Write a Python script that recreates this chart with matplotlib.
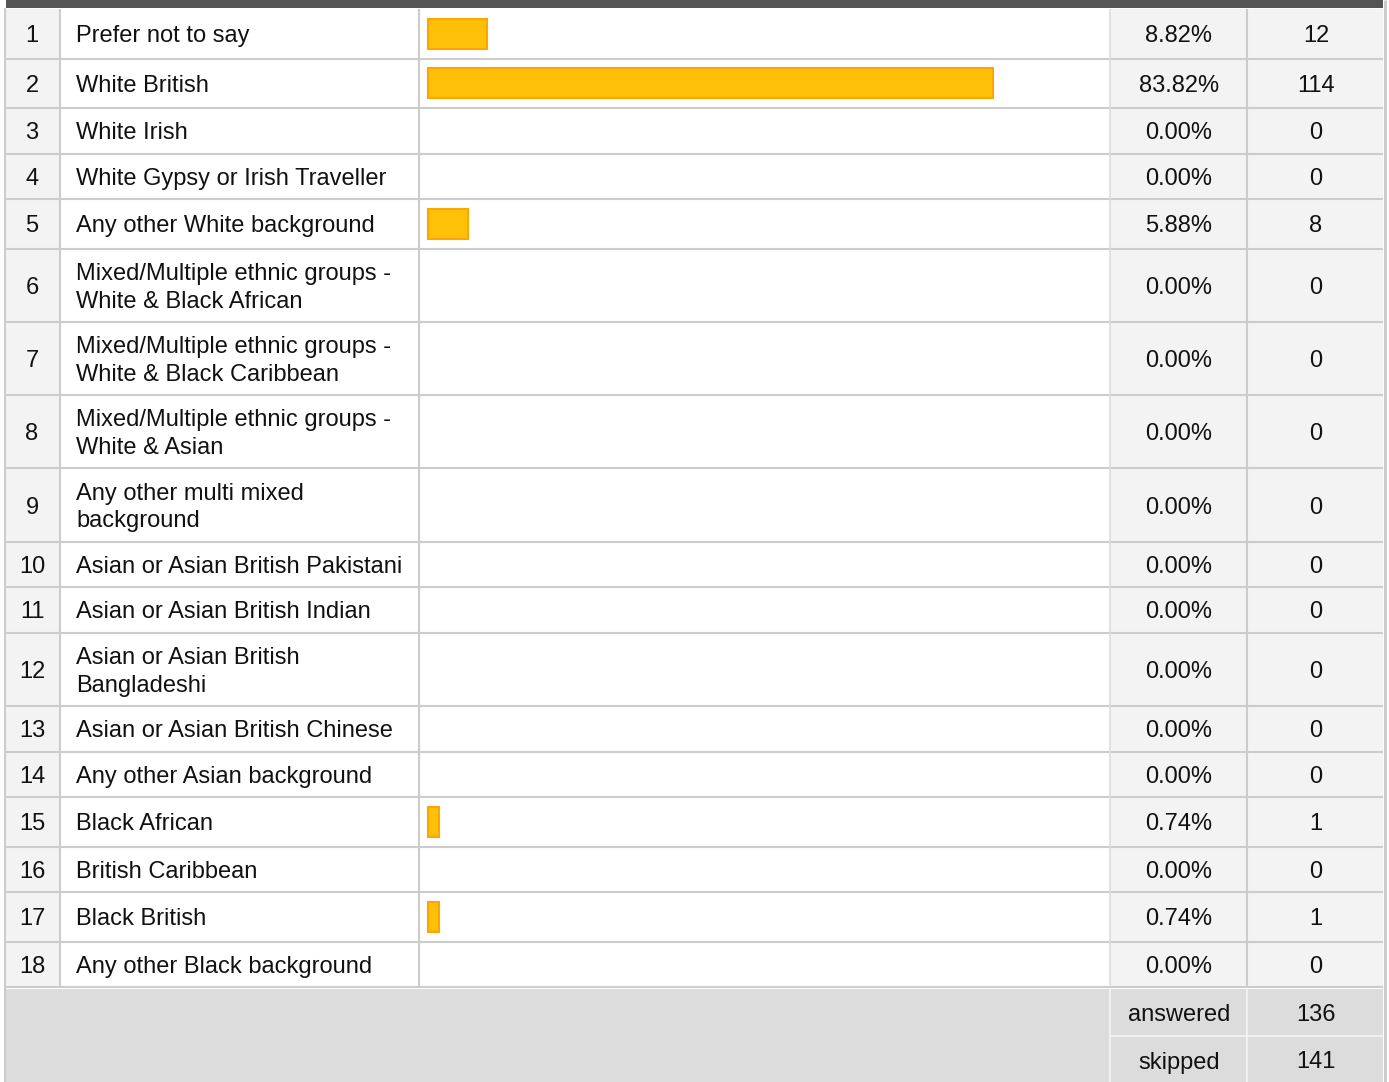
import matplotlib.pyplot as plt

# Survey answer choices (ethnicity)
labels = [
    "Prefer not to say",
    "White British",
    "White Irish",
    "White Gypsy or Irish Traveller",
    "Any other White background",
    "Mixed/Multiple ethnic groups -\nWhite & Black African",
    "Mixed/Multiple ethnic groups -\nWhite & Black Caribbean",
    "Mixed/Multiple ethnic groups -\nWhite & Asian",
    "Any other multi mixed\nbackground",
    "Asian or Asian British Pakistani",
    "Asian or Asian British Indian",
    "Asian or Asian British\nBangladeshi",
    "Asian or Asian British Chinese",
    "Any other Asian background",
    "Black African",
    "British Caribbean",
    "Black British",
    "Any other Black background",
]
percents = [8.82, 83.82, 0.00, 0.00, 5.88, 0.00, 0.00, 0.00, 0.00,
            0.00, 0.00, 0.00, 0.00, 0.00, 0.74, 0.00, 0.74, 0.00]
counts = [12, 114, 0, 0, 8, 0, 0, 0, 0, 0, 0, 0, 0, 0, 1, 0, 1, 0]
answered = 136
skipped = 141

plt.rcParams["font.family"] = ["Liberation Sans", "DejaVu Sans"]

W, H = 1389, 1082
fig = plt.figure(figsize=(W / 100, H / 100), dpi=100)
ax = fig.add_axes([0, 0, 1, 1])
ax.set_xlim(0, W)
ax.set_ylim(H, 0)
ax.axis("off")

# column edges (pixels)
x_left, x_num, x_lab, x_bar, x_pct, x_right = 6, 60, 419, 1110, 1247, 1383
bar_start = 428
px_per_pct = 6.74
grid = "#cccccc"
cell_grey = "#f3f3f3"
fs = 17
tc = "#111111"
dy = 2.5  # nudge text down so glyphs sit centred like the original

# dark header strip
ax.fill_between([x_left, x_right], 0, 8, color="#555555", lw=0)

# row heights depend on number of lines and whether there is a bar
top = 9
edges = [top]
for lab, p in zip(labels, percents):
    if "\n" in lab:
        h = 73.3
    elif p > 0:
        h = 49.5
    else:
        h = 45.5
    edges.append(edges[-1] + h)
body_bottom = edges[-1]

# grey cells
ax.fill_between([x_left, x_num], top, body_bottom, color=cell_grey, lw=0)
ax.fill_between([x_bar, x_right], top, body_bottom, color=cell_grey, lw=0)

for i, (lab, p, c) in enumerate(zip(labels, percents, counts)):
    y0, y1 = edges[i], edges[i + 1]
    yc = (y0 + y1) / 2
    ax.text(32, yc + dy, str(i + 1), ha="center", va="center", fontsize=fs, color=tc)
    ax.text(76, yc + dy, lab, ha="left", va="center", fontsize=fs, color=tc,
            linespacing=1.34)
    if p > 0:
        w = max(p * px_per_pct, 11)
        ax.barh(yc, w, left=bar_start, height=30, color="#ffc107",
                edgecolor="#ffa500", linewidth=1.5)
    ax.text(1179, yc + dy, f"{p:.2f}%", ha="center", va="center", fontsize=fs, color=tc)
    ax.text(1316, yc + dy, str(c), ha="center", va="center", fontsize=fs, color=tc)

# grid lines
ax.hlines(edges[1:], x_left, x_right, color=grid, lw=1.5)
ax.vlines([x_num, x_lab, x_pct], top, body_bottom, color=grid, lw=1.5)
ax.vlines(x_bar, top, body_bottom, color="#dddddd", lw=1.2)

# footer
foot_top = body_bottom + 2
ax.fill_between([x_left, x_right], foot_top, H, color="#dcdcdc", lw=0)
mid = foot_top + 47
y_ans = (foot_top + mid) / 2 + dy
y_skip = (mid + H + 2) / 2 + dy
ax.text(1179, y_ans, "answered", ha="center", va="center", fontsize=fs, color=tc)
ax.text(1316, y_ans, str(answered), ha="center", va="center", fontsize=fs, color=tc)
ax.text(1179, y_skip, "skipped", ha="center", va="center", fontsize=fs, color=tc)
ax.text(1316, y_skip, str(skipped), ha="center", va="center", fontsize=fs, color=tc)
ax.vlines([x_bar, x_pct], foot_top, H, color="#f4f4f4", lw=1.2)
ax.hlines(mid, x_bar, x_right, color="#f4f4f4", lw=1.2)

# outer borders
ax.vlines(5, 8, H, color=grid, lw=1.5)
ax.vlines(1384.5, 0, H, color=grid, lw=2.2)

fig.savefig("out.png", dpi=100)
